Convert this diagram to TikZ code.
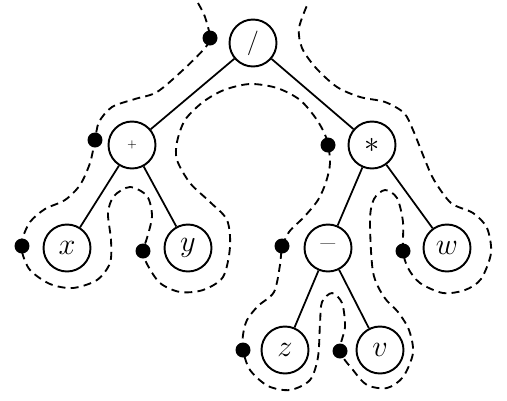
\documentclass[tikz,border=0pt]{standalone}
\begin{document}
\begin{tikzpicture}[x=0.02cm,y=-0.02cm,
  vertex/.style={draw, circle, line width=1.1pt, minimum size=0.94cm, inner sep=0pt, font=\fontsize{16}{19}\selectfont},
  visit/.style={circle, fill=black, minimum size=0.3cm, inner sep=0pt},
  tour/.style={line width=1.05pt, dash pattern=on 4.5pt off 3pt},
  edge/.style={line width=1pt}]
\useasboundingbox (0,0) rectangle (507,400);
\draw[tour] plot[smooth] coordinates {(198,3) (205,17) (210,38) (204,49) (183,70) (157,92) (135,99) (112,107) (99,122) (95,140) (90,163) (80,185) (65,200) (45,209) (30,222) (22,240) (22,252) (30,270) (50,284) (73,288) (97,280) (110,263) (111,240) (108,213) (114,196) (130,187) (147,196) (152,216) (147,238) (143,251) (147,264) (160,283) (180,292) (203,290) (223,277) (230,247) (227,220) (210,202) (190,183) (177,160) (177,142) (185,120) (203,102) (224,90) (250,84) (277,88) (300,100) (317,120) (327,140) (330,163) (326,182) (318,200) (304,217) (289,232) (282,248) (280,265) (274,292) (258,306) (247,320) (243,335) (243,350) (250,370) (268,386) (290,390) (310,380) (318,357) (320,323) (322,302) (332,293) (342,303) (345,327) (340,351) (353,370) (367,385) (387,388) (403,377) (413,353) (409,330) (398,312) (384,297) (373,272) (370,220) (374,199) (385,190) (397,198) (403,222) (403,251) (408,268) (420,283) (443,293) (465,290) (481,279) (491,253) (487,228) (473,213) (451,203) (434,180) (425,160) (413,130) (404,113) (385,102) (360,97) (337,87) (316,68) (302,48) (299,28) (308,3)};
\node[vertex] (div) at (253,43) {\fontsize{14}{16}\selectfont /};
\node[vertex] (plus) at (132,145) {\fontsize{6}{7}\selectfont $+$};
\node[vertex] (times) at (372,145) {\fontsize{17}{20}\selectfont $\ast$};
\node[vertex] (x) at (67,248) {$x$};
\node[vertex] (y) at (188,248) {$y$};
\node[vertex] (minus) at (328,248) {\fontsize{18}{21}\selectfont --};
\node[vertex] (w) at (447,248) {$w$};
\node[vertex] (z) at (285,350) {$z$};
\node[vertex] (v) at (380,350) {$v$};
\node[visit] (div-d) at (210,38) {};
\node[visit] (plus-d) at (95,140) {};
\node[visit] (x-d) at (22,246) {};
\node[visit] (y-d) at (143,251) {};
\node[visit] (times-d) at (328,145) {};
\node[visit] (minus-d) at (282,246) {};
\node[visit] (w-d) at (403,251) {};
\node[visit] (z-d) at (243,350) {};
\node[visit] (v-d) at (340,351) {};
\draw[edge] (div) -- (plus);
\draw[edge] (div) -- (times);
\draw[edge] (plus) -- (x);
\draw[edge] (plus) -- (y);
\draw[edge] (times) -- (minus);
\draw[edge] (times) -- (w);
\draw[edge] (minus) -- (z);
\draw[edge] (minus) -- (v);
\end{tikzpicture}
\end{document}
